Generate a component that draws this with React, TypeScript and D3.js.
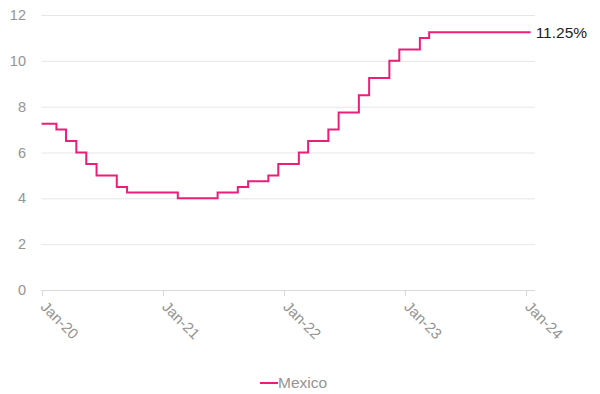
import React, { useEffect, useRef } from 'react';
import * as d3 from 'd3';

// Mexico policy rate: dates where the level changes, and the level from that date on
const changeDates = [
  '2020-01-01', '2020-02-15', '2020-03-15', '2020-04-15', '2020-05-15', '2020-06-15',
  '2020-08-15', '2020-09-15', '2021-02-15', '2021-06-15', '2021-08-15', '2021-09-15',
  '2021-11-15', '2021-12-15', '2022-02-15', '2022-03-15', '2022-05-15', '2022-06-15',
  '2022-08-15', '2022-09-15', '2022-11-15', '2022-12-15', '2023-02-15', '2023-03-15',
  '2024-01-15',
];
const rates = [
  7.25, 7.0, 6.5, 6.0, 5.5, 5.0,
  4.5, 4.25, 4.0, 4.25, 4.5, 4.75,
  5.0, 5.5, 6.0, 6.5, 7.0, 7.75,
  8.5, 9.25, 10.0, 10.5, 11.0, 11.25,
  11.25,
];
const seriesName = 'Mexico';
const yTicks = [0, 2, 4, 6, 8, 10, 12];
const xTickDates = ['2020-01-01', '2021-01-01', '2022-01-01', '2023-01-01', '2024-01-01'];

const W = 600;
const H = 394;
const LINE = '#ec1e79';
const FONT = 'Liberation Sans, Arial, sans-serif';

export default function App() {
  const ref = useRef<SVGSVGElement>(null);

  useEffect(() => {
    if (!ref.current) return;
    const svg = d3.select(ref.current);
    svg.selectAll('*').remove();

    const parse = d3.utcParse('%Y-%m-%d');
    const data = changeDates.map((d, i) => ({ date: parse(d)!, value: rates[i] }));

    const x = d3.scaleUtc()
      .domain([parse('2020-01-01')!, parse('2024-01-01')!])
      .range([41.5, 526]);
    const y = d3.scaleLinear().domain([0, 12]).range([290, 15]);
    const gridRight = 535;

    // gridlines
    svg.append('g').selectAll('line').data(yTicks).join('line')
      .attr('x1', x.range()[0]).attr('x2', gridRight)
      .attr('y1', d => y(d) + 0.5).attr('y2', d => y(d) + 0.5)
      .attr('stroke', d => (d === 0 ? '#d9d9d9' : '#e6e6e6'))
      .attr('stroke-width', 1);

    // y labels
    svg.append('g').selectAll('text').data(yTicks).join('text')
      .attr('x', 26).attr('y', d => y(d)).attr('dy', '0.35em')
      .attr('text-anchor', 'end')
      .attr('font-family', FONT)
      .attr('font-size', 14.5).attr('fill', '#949494')
      .text(d => d);

    // x ticks + labels
    const xt = xTickDates.map(d => parse(d)!);
    svg.append('g').selectAll('line').data(xt).join('line')
      .attr('x1', d => Math.round(x(d)) + 0.5).attr('x2', d => Math.round(x(d)) + 0.5)
      .attr('y1', 290).attr('y2', 296)
      .attr('stroke', '#d9d9d9');
    const fmt = d3.utcFormat('%b-%y');
    svg.append('g').selectAll('text').data(xt).join('text')
      .attr('transform', d => `translate(${x(d) + 2},${304}) rotate(45)`)
      .attr('dy', '0.35em')
      .attr('font-family', FONT)
      .attr('font-size', 15).attr('fill', '#949494')
      .text(d => fmt(d));

    // step line
    const line = d3.line<{ date: Date; value: number }>()
      .x(d => x(d.date)).y(d => y(d.value))
      .curve(d3.curveStepAfter);
    svg.append('path').datum(data)
      .attr('d', line)
      .attr('fill', 'none').attr('stroke', LINE).attr('stroke-width', 2);

    // end label
    const last = data[data.length - 1];
    svg.append('text')
      .attr('x', x(last.date) + 5).attr('y', y(last.value)).attr('dy', '0.35em')
      .attr('font-family', FONT)
      .attr('font-size', 15.5).attr('fill', '#222')
      .text(`${last.value.toFixed(2)}%`);

    // legend
    const lg = svg.append('g').attr('transform', 'translate(260,383)');
    lg.append('line').attr('x1', 0).attr('x2', 18).attr('y1', 0).attr('y2', 0)
      .attr('stroke', LINE).attr('stroke-width', 2);
    lg.append('text').attr('x', 18).attr('y', 0).attr('dy', '0.35em')
      .attr('font-family', FONT)
      .attr('font-size', 15.5).attr('fill', '#949494')
      .text(seriesName);
  }, []);

  return (
    <svg
      ref={ref}
      width={W}
      height={H}
      style={{ position: 'absolute', left: 0, top: 0, background: '#fff' }}
    />
  );
}
